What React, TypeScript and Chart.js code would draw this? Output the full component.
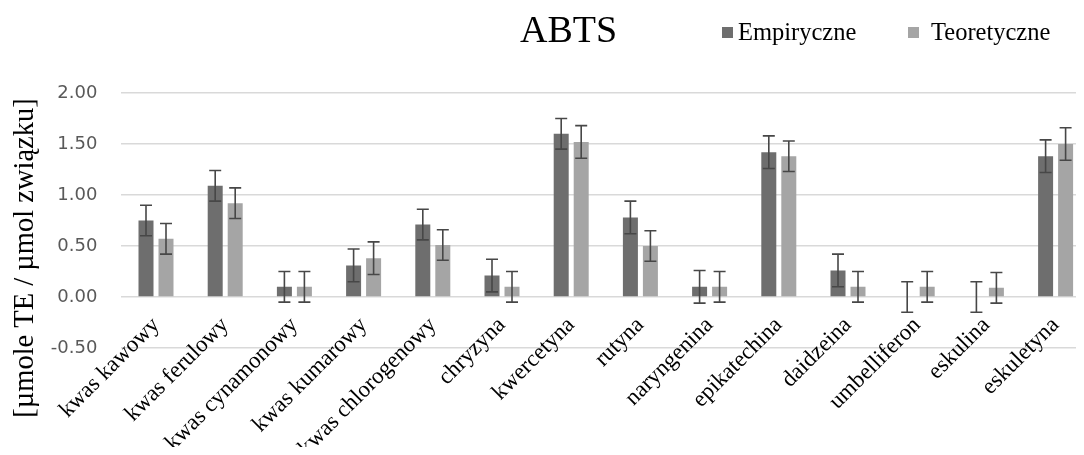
import React, { useEffect, useRef } from "react";
import { Chart, registerables } from "chart.js";

Chart.register(...registerables);

const categories = [
  "kwas kawowy",
  "kwas ferulowy",
  "kwas cynamonowy",
  "kwas kumarowy",
  "kwas chlorogenowy",
  "chryzyna",
  "kwercetyna",
  "rutyna",
  "naryngenina",
  "epikatechina",
  "daidzeina",
  "umbelliferon",
  "eskulina",
  "eskuletyna",
];

const empiryczne = [0.75, 1.09, 0.1, 0.31, 0.71, 0.21, 1.6, 0.78, 0.1, 1.42, 0.26, 0.0, 0.0, 1.38];
const empiryczneErr = [0.15, 0.15, 0.15, 0.16, 0.15, 0.16, 0.15, 0.16, 0.16, 0.16, 0.16, 0.15, 0.15, 0.16];
const teoretyczne = [0.57, 0.92, 0.1, 0.38, 0.51, 0.1, 1.52, 0.5, 0.1, 1.38, 0.1, 0.1, 0.09, 1.5];
const teoretyczneErr = [0.15, 0.15, 0.15, 0.16, 0.15, 0.15, 0.16, 0.15, 0.15, 0.15, 0.15, 0.15, 0.15, 0.16];

const yTicks = [-0.5, 0, 0.5, 1, 1.5, 2];

const titleText = "ABTS";
const yTitleText = "[µmole TE / µmol związku]";
const seriesNames = ["Empiryczne", "Teoretyczne"];

const EMP_COLOR = "#6e6e6e";
const TEO_COLOR = "#a5a5a5";

const errorBarPlugin = {
  id: "errorBars",
  afterDatasetsDraw(chart: any) {
    const ctx = chart.ctx;
    const yScale = chart.scales.y;
    const errs = [empiryczneErr, teoretyczneErr];
    ctx.save();
    ctx.strokeStyle = "#474747";
    ctx.lineWidth = 1.6;
    chart.data.datasets.forEach((ds: any, di: number) => {
      const meta = chart.getDatasetMeta(di);
      meta.data.forEach((bar: any, i: number) => {
        const v = ds.data[i];
        const e = errs[di][i];
        const x = bar.x;
        const yT = yScale.getPixelForValue(v + e);
        const yB = yScale.getPixelForValue(v - e);
        const cap = 6;
        ctx.beginPath();
        ctx.moveTo(x, yT);
        ctx.lineTo(x, yB);
        ctx.moveTo(x - cap, yT);
        ctx.lineTo(x + cap, yT);
        ctx.moveTo(x - cap, yB);
        ctx.lineTo(x + cap, yB);
        ctx.stroke();
      });
    });
    ctx.restore();
  },
};

const textPlugin = {
  id: "texts",
  afterDraw(chart: any) {
    const ctx = chart.ctx;
    ctx.save();
    // title
    ctx.fillStyle = "#000";
    ctx.font = "38px 'Liberation Serif'";
    ctx.textAlign = "center";
    ctx.textBaseline = "alphabetic";
    ctx.fillText(titleText, 560.5, 34);
    // legend
    ctx.font = "24.5px 'Liberation Serif'";
    ctx.textAlign = "left";
    ctx.fillStyle = EMP_COLOR;
    ctx.fillRect(714, 19, 11, 11);
    ctx.fillStyle = "#000";
    ctx.fillText(seriesNames[0], 730, 32);
    ctx.fillStyle = TEO_COLOR;
    ctx.fillRect(900, 19, 11, 11);
    ctx.fillStyle = "#000";
    ctx.fillText(seriesNames[1], 923, 32);
    // y axis title
    ctx.translate(18, 250);
    ctx.rotate(-Math.PI / 2);
    ctx.font = "28.5px 'Liberation Serif'";
    ctx.textAlign = "center";
    ctx.textBaseline = "middle";
    ctx.fillText(yTitleText, 0, 0);
    ctx.restore();
  },
};

export default function App() {
  const ref = useRef<HTMLCanvasElement>(null);
  useEffect(() => {
    if (!ref.current) return;
    const chart = new Chart(ref.current, {
      type: "bar",
      data: {
        labels: categories,
        datasets: [
          {
            label: seriesNames[0],
            data: empiryczne,
            backgroundColor: EMP_COLOR,
            categoryPercentage: 0.578,
            barPercentage: 0.75,
          },
          {
            label: seriesNames[1],
            data: teoretyczne,
            backgroundColor: TEO_COLOR,
            categoryPercentage: 0.578,
            barPercentage: 0.75,
          },
        ],
      },
      options: {
        responsive: false,
        animation: false,
        devicePixelRatio: 1,
        layout: { padding: { top: 85, right: 9.8, left: 0, bottom: 0 } },
        plugins: {
          legend: { display: false },
          title: { display: false },
          tooltip: { enabled: false },
        },
        scales: {
          x: {
            grid: { display: false, drawTicks: false },
            border: { display: false },
            ticks: {
              autoSkip: false,
              minRotation: 45,
              maxRotation: 45,
              padding: -33,
              color: "#000",
              font: { family: "'Liberation Serif'", size: 23, lineHeight: 0.8 },
            },
            afterFit(scale: any) {
              scale.height = 99;
              scale._computeLabelArea = () => undefined;
            },
          },
          y: {
            min: -0.5,
            max: 2,
            afterBuildTicks(scale: any) {
              scale.ticks = yTicks.map((v) => ({ value: v }));
            },
            grid: { color: "#d9d9d9", lineWidth: 1.5, drawTicks: false },
            border: { display: false },
            ticks: {
              padding: 24,
              color: "#595959",
              font: { family: "'DejaVu Sans'", size: 18 },
              callback: (v: any) => Number(v).toFixed(2),
            },
            afterFit(scale: any) {
              scale.width = 113.4;
            },
          },
        },
      },
      plugins: [errorBarPlugin, textPlugin],
    });
    return () => chart.destroy();
  }, []);
  return (
    <div style={{ width: "100%", height: 439, overflow: "hidden" }}>
      <canvas ref={ref} width={1092} height={439} style={{ display: "block" }} />
    </div>
  );
}
